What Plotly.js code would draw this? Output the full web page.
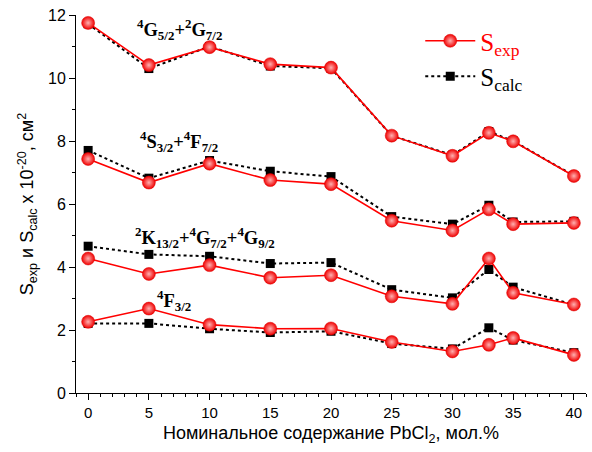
<!DOCTYPE html>
<html>
<head>
<meta charset="utf-8">
<script src="https://cdn.plot.ly/plotly-3.0.1.min.js"></script>
<style>html,body{margin:0;padding:0;background:#fff;}</style>
</head>
<body>
<div id="chart" style="width:592px;height:452px;"></div>
<script>
// PbCl2 content, mol.%
const xVals = [0, 5, 10, 15, 20, 25, 30, 33, 35, 40];

// Group 1: 4G5/2+2G7/2
const g1Exp  = [11.75, 10.41, 10.98, 10.44, 10.33, 8.17, 7.53, 8.26, 7.99, 6.89];
const g1Calc = [11.72, 10.30, 11.00, 10.38, 10.31, 8.17, 7.55, 8.30, 8.00, 6.90];
// Group 2: 4S3/2+4F7/2
const g2Exp  = [7.43, 6.68, 7.28, 6.76, 6.63, 5.47, 5.16, 5.83, 5.36, 5.40];
const g2Calc = [7.70, 6.82, 7.38, 7.04, 6.87, 5.60, 5.36, 5.96, 5.43, 5.45];
// Group 3: 2K13/2+4G7/2+4G9/2
const g3Exp  = [4.27, 3.78, 4.06, 3.66, 3.74, 3.07, 2.83, 4.27, 3.18, 2.81];
const g3Calc = [4.66, 4.40, 4.34, 4.11, 4.14, 3.28, 3.02, 3.92, 3.36, 2.80];
// Group 4: 4F3/2
const g4Exp  = [2.26, 2.68, 2.17, 2.04, 2.05, 1.62, 1.32, 1.53, 1.75, 1.21];
const g4Calc = [2.21, 2.21, 2.04, 1.92, 1.96, 1.57, 1.40, 2.07, 1.68, 1.28];

function sup(t) { return '<sup>' + t + '</sup>'; }
function sub(t) { return '<sub>' + t + '</sub>'; }

const groupLabels = [
  {text: sup('4') + 'G' + sub('5/2') + '+' + sup('2') + 'G' + sub('7/2'), x: 7.5, y: 11.55},
  {text: sup('4') + 'S' + sub('3/2') + '+' + sup('4') + 'F' + sub('7/2'), x: 7.5, y: 8.0},
  {text: sup('2') + 'K' + sub('13/2') + '+' + sup('4') + 'G' + sub('7/2') + '+' + sup('4') + 'G' + sub('9/2'), x: 9.6, y: 4.95},
  {text: sup('4') + 'F' + sub('3/2'), x: 7.1, y: 2.95}
];

const expSets = [g1Exp, g2Exp, g3Exp, g4Exp];
const calcSets = [g1Calc, g2Calc, g3Calc, g4Calc];

const expName = '<span style="color:#ff0000">S<sub>exp</sub></span>';
const calcName = 'S<sub>calc</sub>';

const traces = [];
calcSets.forEach((ys, i) => {
  traces.push({
    x: xVals, y: ys, type: 'scatter', mode: 'lines+markers',
    name: calcName, legendgroup: 'calc', showlegend: i === 0, legendrank: 2,
    line: {color: '#000000', width: 2, dash: 'dot'},
    marker: {symbol: 'square', size: 9, color: '#000000'}
  });
});
expSets.forEach((ys, i) => {
  traces.push({
    x: xVals, y: ys, type: 'scatter', mode: 'lines+markers',
    name: expName, legendgroup: 'exp', showlegend: i === 0, legendrank: 1,
    line: {color: '#ff0000', width: 1.6},
    marker: {symbol: 'circle', size: 13, color: '#f00000',
             gradient: {type: 'radial', color: '#ffb0b0'},
             line: {color: '#dd0000', width: 0.5}}
  });
});

const annotations = groupLabels.map(g => ({
  text: '<b>' + g.text + '</b>', x: g.x, y: g.y, xref: 'x', yref: 'y',
  showarrow: false, xanchor: 'center', yanchor: 'middle',
  font: {family: 'Liberation Serif, Times New Roman, serif', size: 18.5, color: '#000'}
}));

const layout = {
  width: 592, height: 452,
  margin: {l: 76, r: 6, t: 15, b: 59},
  paper_bgcolor: '#ffffff', plot_bgcolor: '#ffffff',
  showlegend: true,
  legend: {
    x: 0.675, y: 0.992, xanchor: 'left', yanchor: 'top',
    bgcolor: 'rgba(0,0,0,0)', borderwidth: 0,
    font: {family: 'Liberation Serif, Times New Roman, serif', size: 25, color: '#000'},
    tracegroupgap: 0, itemwidth: 50
  },
  xaxis: {
    range: [-1, 41], showgrid: false, zeroline: false,
    showline: true, linecolor: '#000', linewidth: 1,
    ticks: 'outside', ticklen: 6, tickwidth: 1, tickcolor: '#000',
    tickmode: 'array', tickvals: [0,5,10,15,20,25,30,35,40],
    minor: {ticks: 'outside', ticklen: 3, tickcolor: '#000', dtick: 1, tick0: 0, showgrid: false},
    tickfont: {family: 'Liberation Sans, Arial, sans-serif', size: 15, color: '#000'},
    title: {text: 'Номинальное содержание PbCl<sub>2</sub>, мол.%',
            font: {family: 'Liberation Sans, Arial, sans-serif', size: 18, color: '#000'}, standoff: 6}
  },
  yaxis: {
    range: [0, 12], showgrid: false, zeroline: false,
    showline: true, linecolor: '#000', linewidth: 1,
    ticks: 'outside', ticklen: 6, tickwidth: 1, tickcolor: '#000',
    dtick: 2, tick0: 0,
    minor: {ticks: 'outside', ticklen: 3, tickcolor: '#000', dtick: 1, showgrid: false},
    tickfont: {family: 'Liberation Sans, Arial, sans-serif', size: 16, color: '#000'},
    title: {text: 'S<sub>exp</sub> и S<sub>calc</sub> x 10<sup>-20</sup>, см<sup>2</sup>',
            font: {family: 'Liberation Sans, Arial, sans-serif', size: 18, color: '#000'}, standoff: 9}
  },
  annotations: annotations
};

Plotly.newPlot('chart', traces, layout, {displayModeBar: false, staticPlot: true});
</script>
</body>
</html>
